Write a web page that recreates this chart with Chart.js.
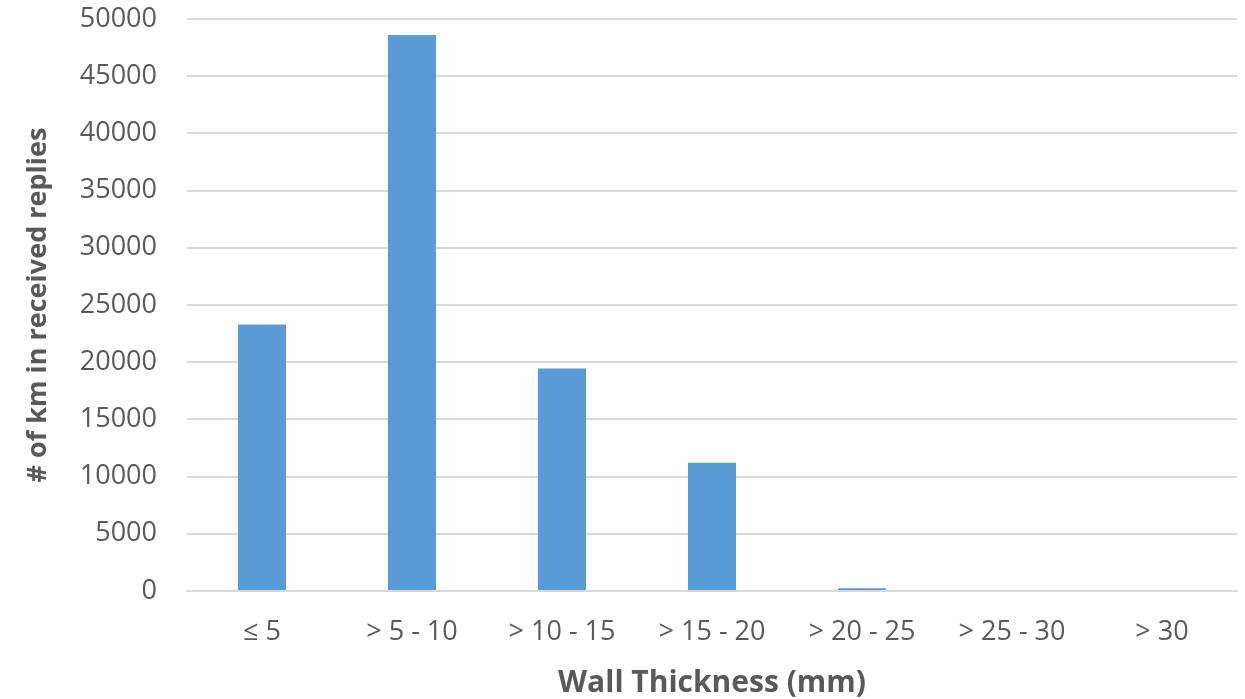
<!DOCTYPE html>
<html>
<head>
<meta charset="utf-8">
<script src="https://cdn.jsdelivr.net/npm/chart.js@4/dist/chart.umd.min.js"></script>
<style>
    html, body { margin: 0; padding: 0; background: #fff; }
    #wrap { width: 1245px; height: 699px; }
</style>
</head>
<body>
<div id="wrap"><canvas id="wallChart" width="1245" height="699"></canvas></div>
<script>
const categories = ['≤ 5', '> 5 - 10', '> 10 - 15', '> 15 - 20', '> 20 - 25', '> 25 - 30', '> 30'];
const kmValues = [23300, 48600, 19450, 11200, 250, 0, 0];
const yTicks = [0, 5000, 10000, 15000, 20000, 25000, 30000, 35000, 40000, 45000, 50000];

document.addEventListener('DOMContentLoaded', function() {
    const ctx = document.getElementById('wallChart').getContext('2d');

    new Chart(ctx, {
        type: 'bar',
        data: {
            labels: categories,
            datasets: [{
                data: kmValues,
                backgroundColor: '#5B9BD5',
                barPercentage: 0.32,
                categoryPercentage: 1.0
            }]
        },
        options: {
            responsive: false,
            animation: false,
            layout: {
                padding: { top: 19, right: 8, left: 0, bottom: 0 }
            },
            plugins: {
                legend: { display: false },
                tooltip: { enabled: false }
            },
            scales: {
                x: {
                    grid: { display: false, drawTicks: false },
                    border: { color: '#D9D9D9', width: 2 },
                    ticks: {
                        color: '#595959',
                        padding: 25,
                        maxRotation: 0,
                        font: { family: 'Open Sans', size: 27 }
                    },
                    title: {
                        display: true,
                        text: 'Wall Thickness (mm)',
                        color: '#595959',
                        padding: { top: 0, bottom: -2 },
                        font: { family: 'Open Sans', size: 30, weight: 'bold' }
                    },
                    afterFit: function(scale) { scale.height = 108; }
                },
                y: {
                    min: 0,
                    max: 50000,
                    afterBuildTicks: function(scale) {
                        scale.ticks = yTicks.map(function(v) { return { value: v }; });
                    },
                    grid: {
                        color: '#D9D9D9',
                        lineWidth: 2,
                        drawTicks: true,
                        tickLength: 30,
                        tickColor: 'rgba(0,0,0,0)'
                    },
                    border: { display: false },
                    ticks: {
                        color: '#595959',
                        padding: 0,
                        font: { family: 'Open Sans', size: 27 },
                        callback: function(value) { return String(value); }
                    },
                    title: {
                        display: true,
                        text: '# of km in received replies',
                        color: '#595959',
                        padding: { top: 22, bottom: 0 },
                        font: { family: 'Open Sans', size: 27, weight: 'bold' }
                    },
                    afterFit: function(scale) { scale.width = 187; }
                }
            }
        }
    });
});
</script>
</body>
</html>
